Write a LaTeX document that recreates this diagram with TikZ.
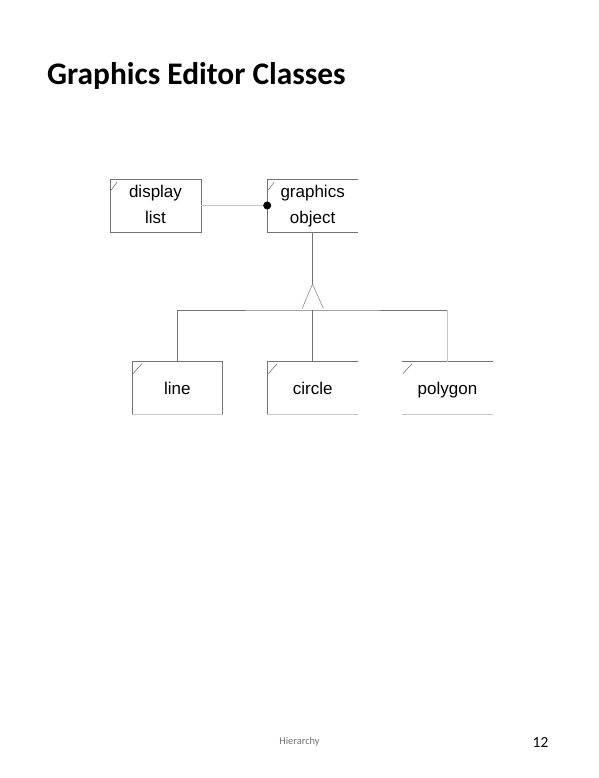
\documentclass[tikz,border=0pt]{standalone}
\usepackage{fontspec}
\setmainfont{Liberation Sans}
\newfontfamily\calib{Carlito}
\newcommand{\twolines}[2]{\parbox[t]{88pt}{\centering\baselineskip=26pt #1\\#2}}
\begin{document}
\begin{tikzpicture}[x=1pt,y=-1pt,
  cls/.style={rectangle,inner sep=0pt,minimum width=90.5pt,minimum height=52.4pt,
    font=\fontsize{17pt}{26pt}\selectfont},
  oneline/.style={text height=16pt,text depth=4pt},
  twoline/.style={text height=13pt,text depth=29.4pt},
  edge/.style={draw=black!55,line width=0.8pt},
  faint/.style={draw=black!22,line width=0.8pt},
  tick/.style={draw=black!60,line width=0.5pt},
  tri/.style={draw=black!45,line width=0.6pt}]
\useasboundingbox (0,0) rectangle (598,778);
\fill[white] (0,0) rectangle (598,778);
% title and footer
\node[anchor=base west,inner sep=0pt,font=\calib\bfseries\fontsize{31.4pt}{36pt}\selectfont] (title) at (47,84.5) {Graphics Editor Classes};
\node[inner sep=0pt,text=black!55,font=\calib\fontsize{10.4pt}{12pt}\selectfont] (foot) at (299.5,742) {Hierarchy};
\node[inner sep=0pt,font=\calib\fontsize{15.4pt}{18pt}\selectfont] (page) at (540.5,742.5) {12};
% class nodes
\node[cls,twoline] (dl) at (155.5,205.5) {\twolines{display}{list}};
\node[cls,twoline] (go) at (312.65,205.5) {\twolines{graphics}{object}};
\node[cls,oneline] (ln) at (177.4,388) {line};
\node[cls,oneline] (ci) at (312.75,388) {circle};
\node[cls,oneline] (po) at (447.5,388) {polygon};
% box outlines
\draw[edge] (dl.north west) rectangle (dl.south east);
\draw[edge] (go.north east) -- (go.north west) -- (go.south west) -- (go.south east);
\draw[edge] (ln.south west) -- (ln.north west) -- (ln.north east) -- (ln.south east);
\draw[faint] (ln.south west) -- (ln.south east);
\draw[edge] (ci.north east) -- (ci.north west) -- (ci.south west);
\draw[faint] (ci.south west) -- (ci.south east);
\draw[edge] (po.north west) -- (po.north east);
\draw[faint] (po.south west) -- (po.south east);
% corner ticks
\foreach \n in {dl,go}{
  \draw[tick] ([shift={(1,11)}]\n.north west) -- ([shift={(7,3)}]\n.north west);}
\foreach \n in {ln,ci,po}{
  \draw[tick] ([shift={(1,12)}]\n.north west) -- ([shift={(10,2)}]\n.north west);}
% association
\draw[faint] (dl.east) -- (go.west);
\fill[black] (go.west) circle[radius=4pt];
% generalisation
\coordinate (apex) at (312.5,284);
\coordinate (bl) at (302.3,308.3);
\coordinate (br) at (323.3,308.3);
\coordinate (bus) at (312.5,310);
\draw[edge] (go.south -| apex) -- (apex);
\draw[tri] (bl) -- (apex) -- (br);
\draw[edge] (ln.north) -- (ln.north |- bus) -- (bus) -- (bus -| po.north);
\draw[faint] (bus -| po.north) -- (po.north);
\draw[edge] (bus) -- (ci.north -| bus);
\end{tikzpicture}
\end{document}
